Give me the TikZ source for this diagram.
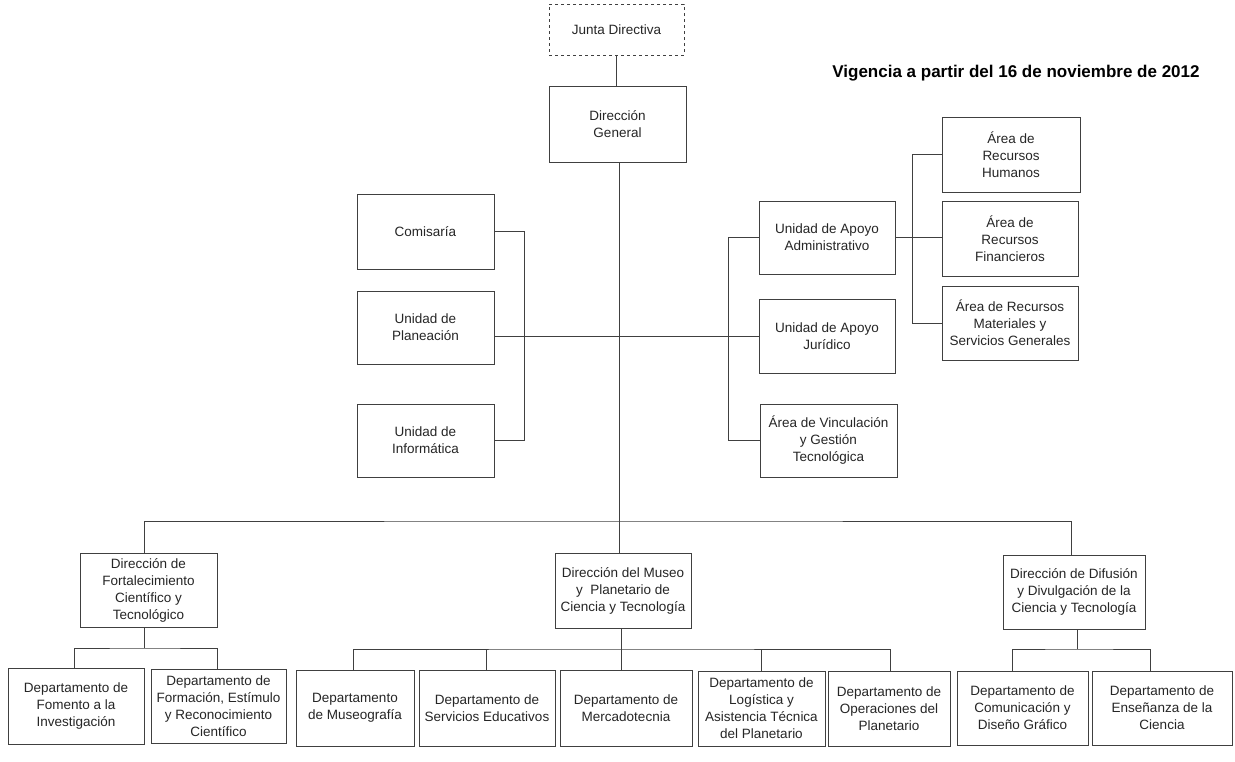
\documentclass[tikz,border=0pt]{standalone}
\usepackage{fontspec}
\setmainfont{Liberation Sans}
\begin{document}
\begin{tikzpicture}[x=1pt,y=-1pt,
  ob/.style={draw=black!75, line width=1pt, fill=white, align=center, inner sep=2pt,
    font=\fontsize{13.5}{17}\selectfont, text=black!85},
  cn/.style={draw=black!75, line width=1pt}]
\useasboundingbox (0,0) rectangle (1235,761);
% title
\node[font=\fontsize{17}{20}\selectfont\bfseries, text=black] (title) at (1016,73) {Vigencia a partir del 16 de noviembre de 2012};
% top
\node[ob, dashed, minimum width=135pt, minimum height=51pt] (junta) at (616.5,29.5) {Junta Directiva};
\node[ob, minimum width=137pt, minimum height=76pt] (dg) at (617.5,124) {Dirección\\General};
% left staff
\node[ob, minimum width=137pt, minimum height=75pt] (com) at (425.5,231.5) {Comisaría};
\node[ob, minimum width=137pt, minimum height=73pt] (plan) at (425.5,327.5) {Unidad de\\Planeación};
\node[ob, minimum width=137pt, minimum height=73pt] (inf) at (425.5,440.5) {Unidad de\\Informática};
% right staff
\node[ob, minimum width=136pt, minimum height=73pt] (adm) at (827,237.5) {Unidad de Apoyo\\Administrativo};
\node[ob, minimum width=136pt, minimum height=74pt] (jur) at (827,336) {Unidad de Apoyo\\Jurídico};
\node[ob, minimum width=137pt, minimum height=73pt] (vin) at (828.5,440.5) {Área de Vinculación\\y Gestión\\Tecnológica};
\node[ob, minimum width=138pt, minimum height=75pt] (rh) at (1011,154.5) {Área de\\Recursos\\Humanos};
\node[ob, minimum width=136pt, minimum height=75pt] (rf) at (1010,238.5) {Área de\\Recursos\\Financieros};
\node[ob, minimum width=136pt, minimum height=74pt] (rm) at (1010,323) {Área de Recursos\\Materiales y\\Servicios Generales};
% directions
\node[ob, minimum width=137pt, minimum height=74pt] (dfc) at (148.5,590) {Dirección de\\Fortalecimiento\\Científico y\\Tecnológico};
\node[ob, minimum width=136pt, minimum height=75pt] (dmp) at (623,590.5) {Dirección del Museo\\y~~Planetario de\\Ciencia y Tecnología};
\node[ob, minimum width=142pt, minimum height=74pt] (ddc) at (1074,592) {Dirección de Difusión\\y Divulgación de la\\Ciencia y Tecnología};
% departments
\node[ob, minimum width=136pt, minimum height=76pt] (fom) at (76,706) {Departamento de\\Fomento a la\\Investigación};
\node[ob, minimum width=135pt, minimum height=74pt] (for) at (218.5,706) {Departamento de\\Formación, Estímulo\\y Reconocimiento\\Científico};
\node[ob, minimum width=118pt, minimum height=76pt] (mus) at (355,708) {Departamento\\de Museografía};
\node[ob, minimum width=136pt, minimum height=76pt] (ser) at (487,708) {Departamento de\\Servicios Educativos};
\node[ob, minimum width=132pt, minimum height=76pt] (mer) at (626,708) {Departamento de\\Mercadotecnia};
\node[ob, minimum width=127pt, minimum height=75pt] (log) at (761.5,708.5) {Departamento de\\Logística y\\Asistencia Técnica\\del Planetario};
\node[ob, minimum width=122pt, minimum height=75pt] (ope) at (889,708.5) {Departamento de\\Operaciones del\\Planetario};
\node[ob, minimum width=131pt, minimum height=74pt] (com2) at (1022.5,708) {Departamento de\\Comunicación y\\Diseño Gráfico};
\node[ob, minimum width=140pt, minimum height=74pt] (ens) at (1162,708) {Departamento de\\Enseñanza de la\\Ciencia};
% helper coordinates
\coordinate (lbx) at (524,0);
\coordinate (rbx) at (728,0);
\coordinate (abx) at (912,0);
\coordinate (bus) at (619,521);
\coordinate (b1) at (144,648);
\coordinate (b2) at (621,649);
\coordinate (b3) at (1077,649);
% connectors
\draw[cn] (junta.south) -- (junta.south |- dg.north);
\draw[cn] ([xshift=1.5pt]dg.south) -- ([xshift=1.5pt]dg.south |- dmp.north);
\draw[cn] (com.east) -| (lbx |- inf.east) -- (inf.east);
\draw[cn] (plan.east |- jur.west) -- (jur.west);
\draw[cn] (adm.west) -| (rbx |- vin.west) -- (vin.west);
\draw[cn] (rh.west) -| (abx |- rm.west) -- (rm.west);
\draw[cn] (adm.east) -- (adm.east -| rf.west);
\draw[cn] ([xshift=-4pt]dfc.north) |- (bus) -| ([xshift=-3pt]ddc.north);
\draw[cn] ([xshift=-4pt]dfc.south) -- ([xshift=-4pt]dfc.south |- b1);
\draw[cn] ([xshift=-2pt]fom.north) |- (b1) -| ([xshift=-1.5pt]for.north);
\draw[cn] ([xshift=-2pt]dmp.south) -- ([xshift=-2pt]dmp.south |- mer.north);
\draw[cn] ([xshift=-2pt]mus.north) |- (b2) -| ([xshift=1pt]ope.north);
\draw[cn] ([xshift=-1pt]ser.north) -- ([xshift=-1pt]ser.north |- b2);
\draw[cn] ([xshift=-0.5pt]log.north) -- ([xshift=-0.5pt]log.north |- b2);
\draw[cn] ([xshift=3pt]ddc.south) -- ([xshift=3pt]ddc.south |- b3);
\draw[cn] ([xshift=-10.5pt]com2.north) |- (b3) -| ([xshift=-12pt]ens.north);
\end{tikzpicture}
\end{document}
